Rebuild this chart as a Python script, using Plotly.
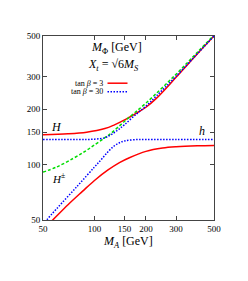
import plotly.graph_objects as go
import numpy as np

# --- data ---
# tan beta = 3 (red, solid)
ma_h3 = [55, 57, 70, 85, 100, 120, 140, 160, 200, 250, 300, 400, 500]
mh_3 = [48.5, 50, 60.5, 71.5, 82, 93.5, 102.5, 109, 118, 123, 125, 126.5, 127]
ma_H3 = [50, 70, 90, 115, 130, 150, 175, 200, 230, 300, 400, 500]
mH_3 = [145.5, 147, 150, 157, 164, 175, 190, 205, 229, 298, 400, 500]

# tan beta = 30 (blue, dotted)
ma_h30 = [50, 52.5, 60, 80, 100, 110, 120, 130, 140, 150, 170, 200, 300, 500]
mh_30 = [47.5, 50, 57.5, 77, 97, 107, 117.5, 126, 131.5, 134.5, 136.5, 137, 137, 137]
ma_H30 = [50, 80, 100, 115, 125, 138, 150, 172, 200, 231, 300, 500]
mH_30 = [137, 137, 137.5, 140, 145.5, 155, 165, 185, 208, 237, 302, 500]

# charged Higgs (green, dashed)
ma_Hpm = [50, 60, 75, 88, 100, 115, 125, 150, 200, 300, 400, 500]
mHpm = [91, 97, 108, 118, 128, 140, 148, 172, 216, 310, 408, 506]

tick_vals = [50, 100, 150, 200, 300, 500]
tick_text = ["50", "100", "150", "200", "300", "500"]

RED = "#ff0000"
BLUE = "#0000ff"
GREEN = "#00dd00"
FONT = "Liberation Serif"

fig = go.Figure()
fig.add_trace(go.Scatter(x=ma_h3, y=mh_3, mode="lines", line=dict(color=RED, width=1.5, shape="spline")))
fig.add_trace(go.Scatter(x=ma_H3, y=mH_3, mode="lines", line=dict(color=RED, width=1.5, shape="spline")))
fig.add_trace(go.Scatter(x=ma_Hpm, y=mHpm, mode="lines",
                         line=dict(color=GREEN, width=1.5, dash="3px,2px", shape="spline")))
fig.add_trace(go.Scatter(x=ma_h30, y=mh_30, mode="lines",
                         line=dict(color=BLUE, width=1.5, dash="1.5px,1.5px", shape="spline")))
fig.add_trace(go.Scatter(x=ma_H30, y=mH_30, mode="lines",
                         line=dict(color=BLUE, width=1.5, dash="1.5px,1.5px", shape="spline")))

axis_common = dict(
    type="log", range=[np.log10(50), np.log10(500)],
    tickvals=tick_vals, ticktext=tick_text,
    ticks="inside", ticklen=4, tickcolor="#444", tickwidth=1,
    showline=True, linecolor="#444", linewidth=1, mirror="ticks",
    showgrid=False, zeroline=False,
    tickfont=dict(family=FONT, size=9, color="black"),
)
fig.update_xaxes(**axis_common)
fig.update_yaxes(**axis_common)

def px2x(px):
    return (px - 43) / 171.0

def py2y(py):
    return (220 - py) / 184.0

ann = [
    ("<i>M</i><sub>Φ</sub> [GeV]", 116, 48, 12, "center"),
    ("<i>X</i><sub><i>t</i></sub> = √6<i>M</i><sub><i>S</i></sub>", 113, 65, 12, "center"),
    ("<i>H</i>", 56, 127, 12, "center"),
    ("<i>h</i>", 202, 131, 12, "center"),
    ("<i>H</i><sup>±</sup>", 58, 178, 11, "center"),
    ("<i>M</i><sub><i>A</i></sub> [GeV]", 128, 242, 12, "center"),
]
for text, px, py, size, align in ann:
    fig.add_annotation(x=px2x(px), y=py2y(py), xref="paper", yref="paper",
                       text=text, showarrow=False, xanchor=align, yanchor="middle",
                       font=dict(family=FONT, size=size, color="black"))

# legend
legend_items = [("tan <i>β</i> = 3", 83.2, RED, "solid"), ("tan <i>β</i> = 30", 91.7, BLUE, "1.5px,1.5px")]
for text, py, color, dash in legend_items:
    fig.add_annotation(x=px2x(105), y=py2y(py), xref="paper", yref="paper",
                       text=text, showarrow=False, xanchor="right", yanchor="middle",
                       font=dict(family=FONT, size=8, color="black"))
    fig.add_shape(type="line", xref="paper", yref="paper",
                  x0=px2x(107.5), x1=px2x(127.5), y0=py2y(py), y1=py2y(py),
                  line=dict(color=color, width=1.5, dash=dash))

# the page body adds an 8px offset, so margins are reduced to compensate
fig.update_layout(
    width=248, height=281,
    margin=dict(l=35, r=42, t=28, b=69),
    paper_bgcolor="white", plot_bgcolor="white",
    showlegend=False,
)

fig.write_html("out.html")
